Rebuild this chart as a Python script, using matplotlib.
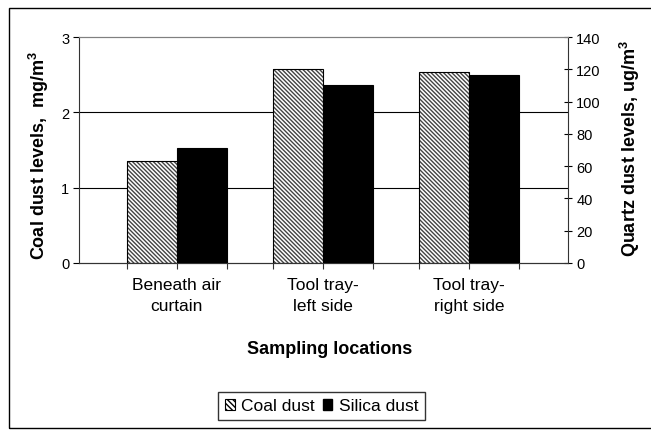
import numpy as np
import matplotlib
matplotlib.use("Agg")
import matplotlib.pyplot as plt
from matplotlib.patches import Rectangle, Patch

plt.rcParams['font.family'] = ['Liberation Sans', 'DejaVu Sans']
plt.rcParams['mathtext.fontset'] = 'custom'
plt.rcParams['mathtext.rm'] = 'Liberation Sans'
plt.rcParams['mathtext.bf'] = 'Liberation Sans:bold'

# --- données ---
locations = ["Beneath air\ncurtain", "Tool tray-\nleft side", "Tool tray-\nright side"]
coal_dust = [1.35, 2.57, 2.54]        # mg/m3 (axe gauche)
silica_dust = [71.0, 110.5, 116.5]    # ug/m3 (axe droit)

x = np.arange(len(locations))
w = 0.34
W, H = 651, 431

fig = plt.figure(figsize=(6.51, 4.31), dpi=100)
ax = fig.add_axes([79/W, (H-264)/H, (568-79)/W, (264-38)/H])
ax2 = ax.twinx()

# cadre autour de la figure
fig.patches.append(Rectangle((9/W, 2/H), 1.0, (429-9)/H, transform=fig.transFigure,
                             fill=False, edgecolor='black', linewidth=1.0))

# barres hachurées (charbon) : hachures grises + contour noir
ax.bar(x - w/2, coal_dust, w, color='white', edgecolor='#444444', hatch='\\' * 8,
       linewidth=0, zorder=2)
ax.bar(x - w/2, coal_dust, w, fill=False, edgecolor='black', linewidth=0.8, zorder=3)
ax2.bar(x + w/2, silica_dust, w, color='black', edgecolor='black', linewidth=0.8, zorder=3)

ax.set_ylim(0, 3)
ax2.set_ylim(0, 140)
ax.set_xlim(-0.669, 2.676)
ax.set_yticks([0, 1, 2, 3])
ax2.set_yticks(np.arange(0, 141, 20))
for yv in (1, 2):
    ax.axhline(yv, color='black', linewidth=0.8, zorder=1)

# ticks x : traits aux bords des barres, étiquettes au centre
edges = np.concatenate([x - w, x, x + w])
ax.xaxis.remove_overlapping_locs = False
ax.set_xticks(np.sort(edges))
ax.set_xticklabels([])
ax.set_xticks(x, minor=True)
ax.set_xticklabels(locations, minor=True, fontsize=12.5, linespacing=1.55)
ax.tick_params(axis='x', which='major', direction='out', length=4, width=0.8, color='#333333')
ax.tick_params(axis='x', which='minor', length=0, pad=10)
ax.tick_params(axis='y', direction='out', length=4, width=0.8, labelsize=10.5, pad=3)
ax2.tick_params(axis='y', direction='inout', length=6, width=0.8, labelsize=10.5, pad=3)

for a in (ax, ax2):
    a.spines['top'].set_color('#808080')
    a.spines['right'].set_visible(False)
    a.spines['left'].set_visible(False)
    a.spines['bottom'].set_color('#333333')
ax.spines['left'].set_visible(True)
ax.spines['left'].set_color('#333333')
ax2.spines['right'].set_visible(True)
ax2.spines['right'].set_color('#333333')
for a in (ax, ax2):
    for s in a.spines.values():
        s.set_linewidth(0.8)

# titres des axes
fig.text(329.5/W, (H-350)/H, "Sampling locations", fontsize=13, fontweight='bold',
         ha='center', va='center')
fig.text(39/W, (H-156)/H, r"Coal dust levels,  mg/m$^{\mathbf{3}}$", fontsize=13,
         fontweight='bold', rotation=90, ha='center', va='center')
fig.text(630/W, (H-149)/H, r"Quartz dust levels, ug/m$^{\mathbf{3}}$", fontsize=13,
         fontweight='bold', rotation=90, ha='center', va='center')

handles = [Patch(facecolor='white', edgecolor='black', hatch='\\' * 6, linewidth=0.8, label='Coal dust'),
           Patch(facecolor='black', edgecolor='black', label='Silica dust')]
fig.legend(handles=handles, loc='center', bbox_to_anchor=(321.5/W, (H-407)/H), ncol=2,
           frameon=True, fancybox=False, edgecolor='black', fontsize=12.5,
           handlelength=0.55, handleheight=0.55, handletextpad=0.35, columnspacing=0.5,
           borderpad=0.4, borderaxespad=0)

fig.savefig("out.png", dpi=100)
